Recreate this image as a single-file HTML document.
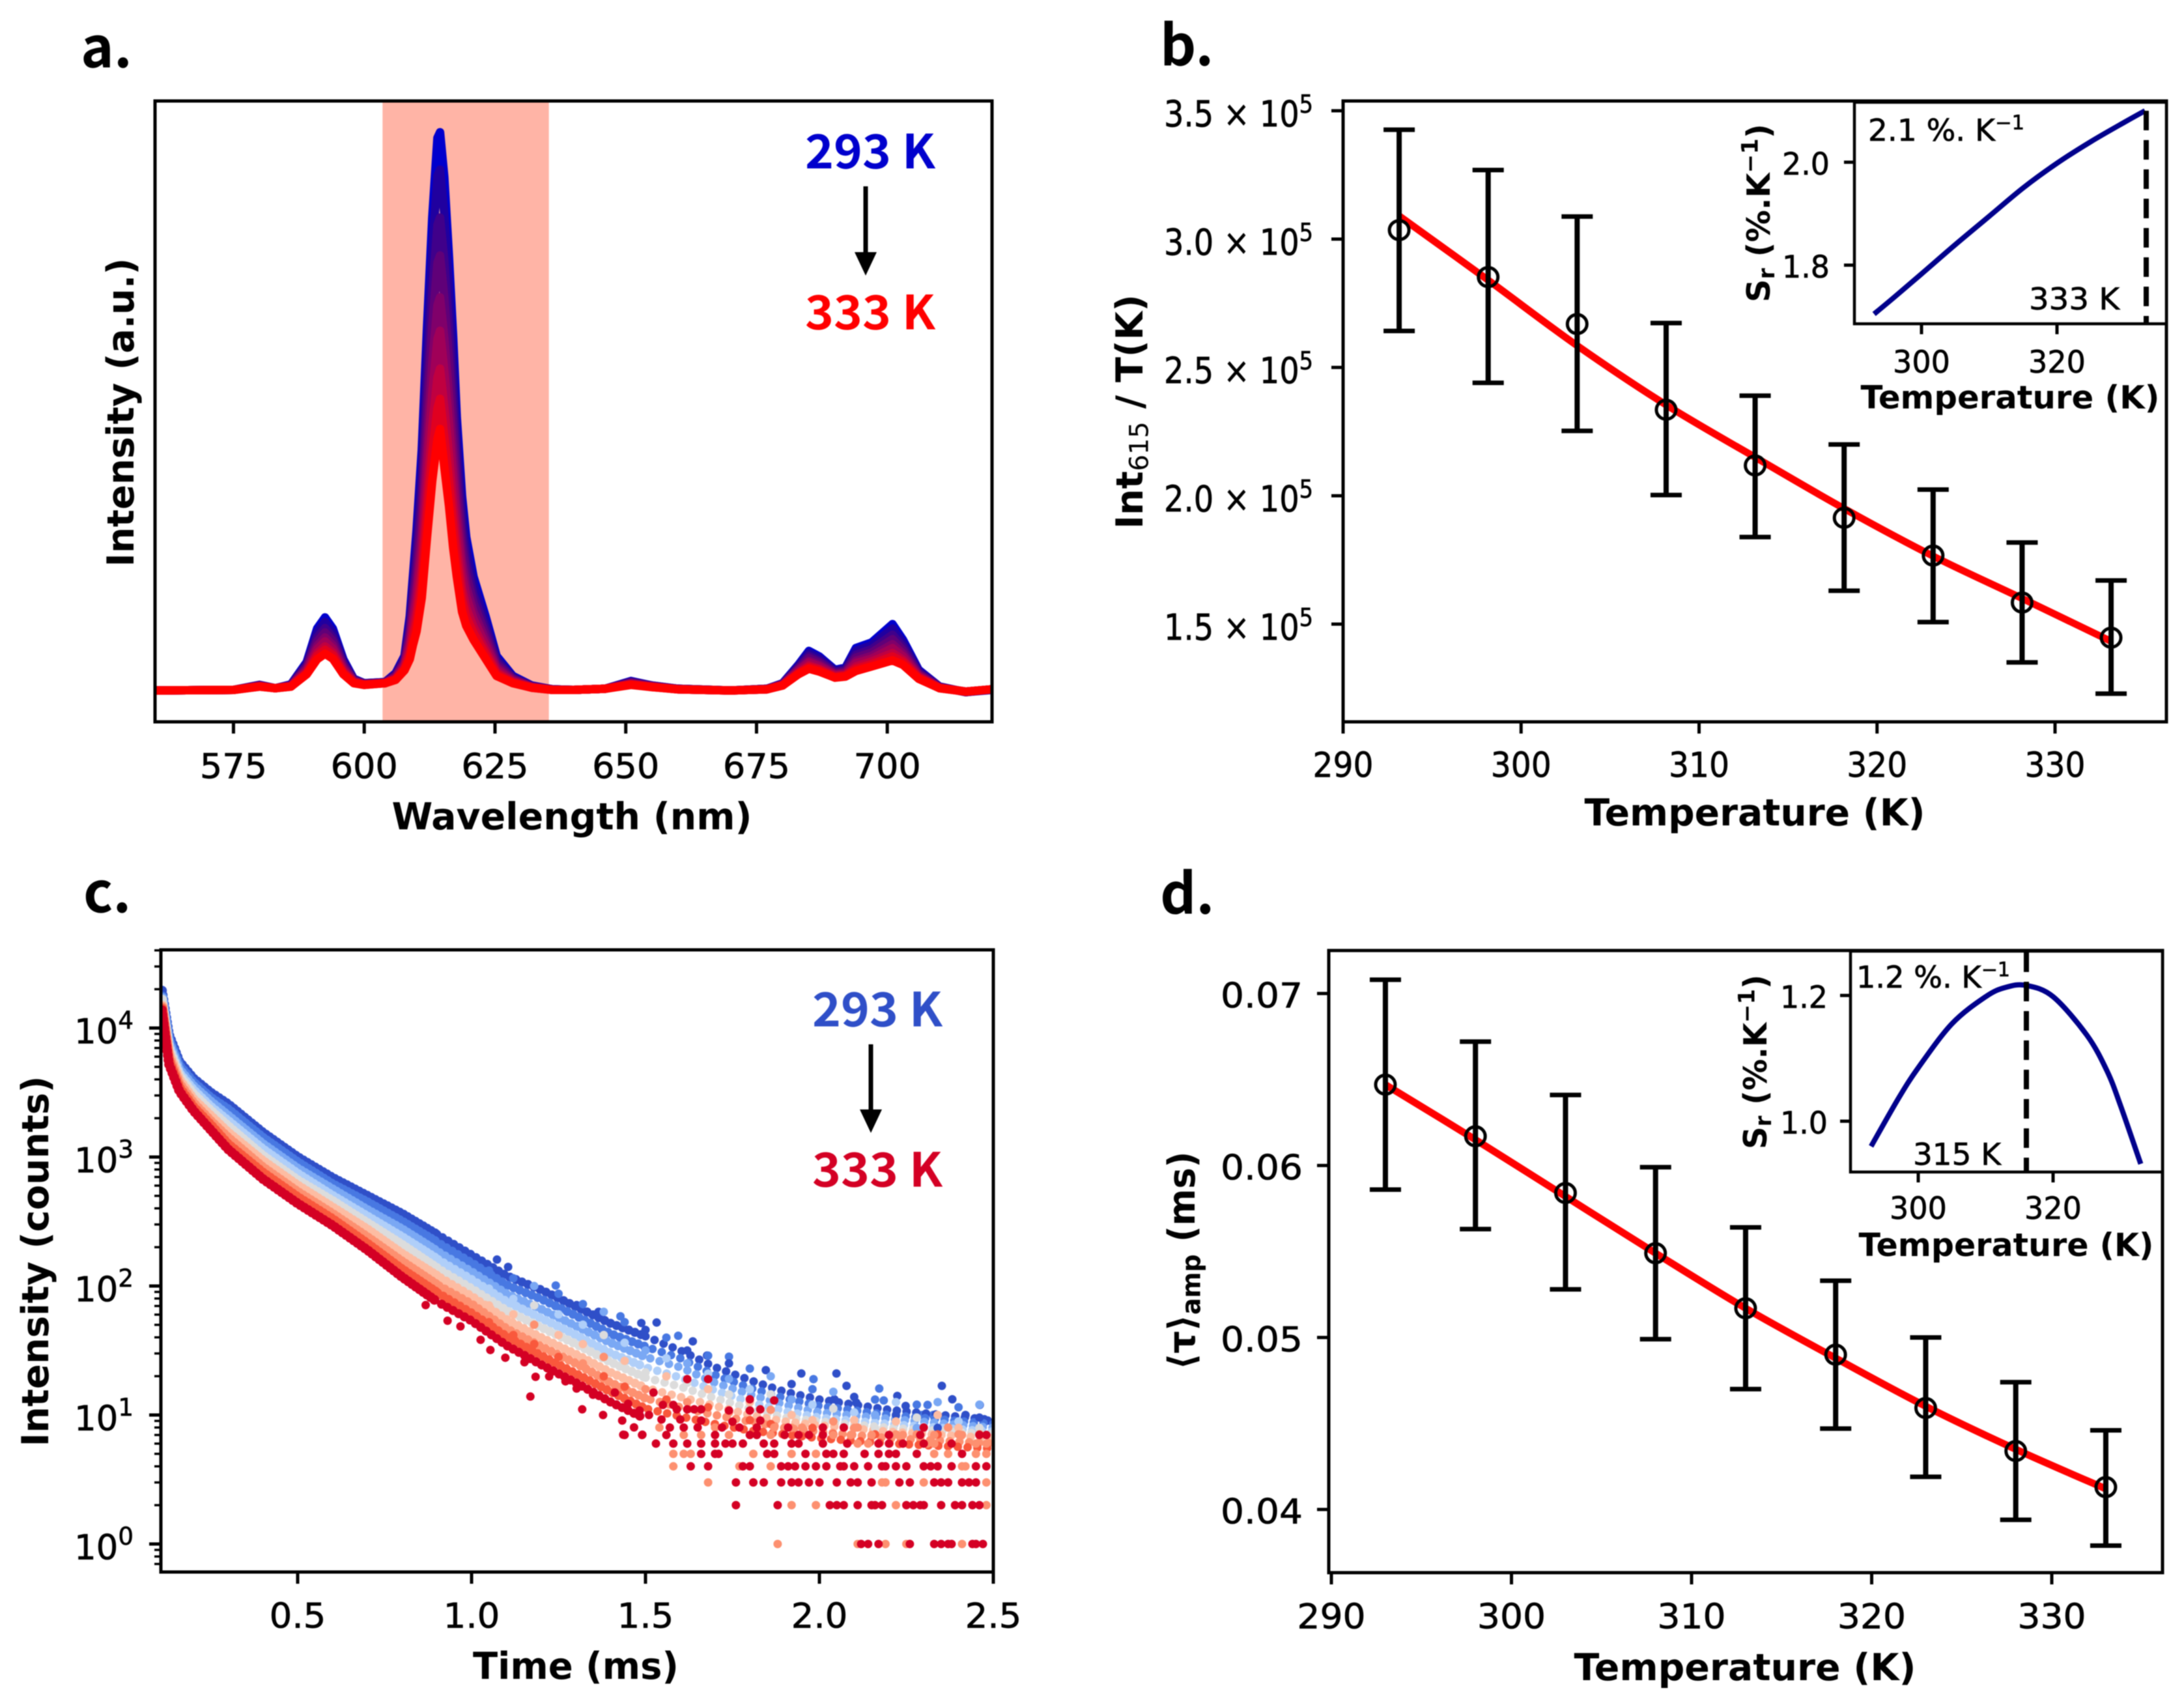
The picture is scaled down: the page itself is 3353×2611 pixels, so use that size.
<!DOCTYPE html>
<html lang="en">
<head>
<meta charset="utf-8">
<title>Luminescence thermometry figure</title>
<style>
html,body{margin:0;padding:0;background:#fff;width:3353px;height:2611px;overflow:hidden}
svg{display:block;filter:blur(0.8px)}
text{font-family:"DejaVu Sans","Liberation Sans",sans-serif;white-space:pre}
</style>
</head>
<body>
<svg id="fig" width="3353" height="2611" viewBox="0 0 3353 2611" xmlns="http://www.w3.org/2000/svg">
<defs>
<clipPath id="clip-a"><rect x="238" y="155" width="1285" height="953"/></clipPath>
<clipPath id="clip-c"><rect x="247" y="1458" width="1278" height="955"/></clipPath>
</defs>
<rect width="3353" height="2611" fill="#fff"/>
<g id="panel-a"></g>
<g id="panel-b"></g>
<g id="panel-c"></g>
<g id="panel-d"></g>
</svg>
<script>
/* ---------- Panel a data ---------- */
const wavelengths = [560,575,580,583,586,589,591,592.5,594,596,598,600,604,606,607.7,608.7,609.3,610,611,612,613,614,614.5,615.3,616.2,617,617.7,618.7,619.5,620.9,623.2,625.3,628.4,632,636,640,646,651,655,660,670,677,680,683,685,687,690,692,694,697,701,703,706,710,715,720];
const spectrum293 = [-.001,0,.009,.003,.010,.050,.110,.130,.110,.055,.020,.012,.014,.03,.061,.132,.203,.285,.43,.65,.847,.99,1,.92,.776,.633,.489,.347,.274,.203,.132,.061,.025,.008,.001,0,.002,.016,.008,.002,-.001,.002,.012,.045,.070,.060,.036,.040,.075,.085,.118,.090,.036,.006,-.004,0];
const spectrum298 = [-.001,0,.009,.003,.009,.047,.103,.122,.103,.052,.019,.012,.014,.028,.058,.122,.188,.262,.397,.603,.788,.922,.933,.854,.72,.585,.453,.321,.254,.189,.122,.056,.023,.007,.001,0,.002,.015,.008,.002,-.001,.002,.011,.043,.066,.057,.034,.038,.070,.080,.110,.084,.034,.006,-.004,.001];
const spectrum303 = [-.001,0,.008,.003,.009,.044,.094,.111,.094,.047,.018,.011,.013,.027,.054,.11,.168,.233,.354,.542,.711,.834,.847,.77,.648,.524,.407,.287,.228,.17,.110,.051,.021,.007,.001,0,.002,.014,.007,.002,-.001,.002,.011,.040,.061,.052,.032,.035,.063,.073,.099,.077,.031,.005,-.004,.001];
const spectrum308 = [-.001,0,.008,.003,.008,.041,.087,.103,.088,.044,.017,.011,.013,.025,.05,.1,.152,.21,.32,.494,.651,.766,.779,.704,.591,.476,.370,.261,.208,.156,.100,.046,.02,.006,.001,0,.002,.013,.007,.002,-.001,.002,.010,.038,.057,.049,.030,.033,.058,.067,.091,.071,.029,.005,-.004,.001];
const spectrum313 = [-.001,0,.007,.003,.008,.038,.079,.094,.080,.040,.016,.010,.013,.023,.047,.089,.135,.185,.283,.441,.585,.69,.704,.631,.528,.423,.330,.232,.186,.14,.090,.041,.018,.006,0,0,.002,.012,.007,.001,-.001,.001,.010,.036,.052,.045,.028,.031,.052,.061,.082,.065,.027,.004,-.003,.001];
const spectrum318 = [-.001,0,.007,.003,.007,.035,.073,.087,.074,.037,.015,.010,.013,.022,.044,.081,.121,.165,.253,.398,.531,.629,.644,.572,.478,.380,.298,.209,.168,.127,.081,.037,.016,.005,0,0,.002,.011,.006,.001,-.001,.001,.009,.034,.049,.042,.027,.029,.048,.056,.075,.060,.025,.004,-.003,.001];
const spectrum323 = [-.001,0,.007,.003,.007,.032,.066,.078,.067,.033,.014,.010,.012,.02,.04,.071,.105,.142,.219,.350,.471,.56,.576,.506,.421,.332,.261,.182,.147,.113,.071,.032,.015,.005,0,0,.002,.010,.006,.001,-.001,.001,.009,.031,.044,.038,.025,.027,.042,.051,.066,.054,.023,.004,-.003,.001];
const spectrum328 = [-.001,0,.006,.003,.006,.030,.061,.072,.062,.031,.013,.009,.012,.019,.038,.063,.093,.123,.192,.312,.423,.505,.522,.453,.375,.294,.232,.161,.131,.102,.064,.029,.013,.004,0,0,.002,.010,.005,.001,-.001,.001,.008,.030,.041,.036,.023,.026,.038,.046,.060,.050,.022,.003,-.003,.001];
const spectrum333 = [-.001,0,.006,.003,.006,.028,.055,.065,.056,.028,.012,.009,.012,.018,.035,.055,.08,.105,.165,.274,.375,.45,.468,.40,.33,.255,.203,.14,.115,.09,.056,.025,.012,.004,0,0,.002,.009,.005,.001,-.001,.001,.008,.028,.038,.033,.022,.024,.034,.042,.053,.045,.020,.003,-.003,.001];
const spectra = [spectrum293,spectrum298,spectrum303,spectrum308,spectrum313,spectrum318,spectrum323,spectrum328,spectrum333];
const spectrumColors = ['#0000cd','#20009f','#40008a','#600078','#80006a','#a00058','#c00040','#e00020','#ff0000'];
const wavelengthTicks = [575,600,625,650,675,700];
const bandRange = [603.5,635.3];

/* ---------- Panel b data ---------- */
const temperatures = [293.15,298.15,303.15,308.15,313.15,318.15,323.15,328.15,333.15];
const intMeans = [3.035,2.852,2.669,2.335,2.118,1.914,1.767,1.584,1.447];
const intHigh = [3.426,3.269,3.088,2.673,2.39,2.2,2.024,1.818,1.67];
const intLow = [2.642,2.44,2.253,2.003,1.839,1.63,1.508,1.351,1.229];
const intFit = [3.09,2.84,2.585,2.354,2.15,1.95,1.765,1.6,1.433];
const intXTicks = [290,300,310,320,330];
const intYTicks = [1.5,2.0,2.5,3.0,3.5];
const srbTemps = [293,296,300,305,310,315,320,325,330,333];
const srbValues = [1.705,1.738,1.783,1.84,1.895,1.95,1.998,2.04,2.078,2.1];
const srbXTicks = [300,320];
const srbYTicks = [1.8,2.0];

/* ---------- Panel c data ---------- */
const decayTimes = [0.11,0.13,0.16,0.2,0.25,0.3,0.4,0.5,0.6,0.7,0.8,0.9,1.0,1.1,1.2,1.3,1.4,1.5,1.6,1.7,1.8,1.9,2.0,2.2,2.5];
const decayLog293 = [4.29,3.95,3.74,3.61,3.50,3.41,3.19,3.00,2.84,2.70,2.56,2.40,2.24,2.08,1.97,1.84,1.71,1.61,1.50,1.37,1.27,1.18,1.12,1.04,.96];
const decayLog298 = [4.27,3.92,3.71,3.58,3.46,3.37,3.15,2.96,2.79,2.65,2.50,2.34,2.18,2.01,1.90,1.77,1.63,1.53,1.44,1.31,1.21,1.13,1.07,1.0,.93];
const decayLog303 = [4.25,3.89,3.68,3.55,3.43,3.32,3.10,2.91,2.75,2.59,2.44,2.27,2.11,1.94,1.82,1.69,1.56,1.45,1.37,1.25,1.16,1.08,1.02,.97,.90];
const decayLog308 = [4.23,3.86,3.65,3.52,3.39,3.28,3.06,2.87,2.70,2.54,2.38,2.21,2.05,1.88,1.75,1.62,1.48,1.37,1.29,1.19,1.10,1.03,.98,.93,.87];
const decayLog313 = [4.22,3.84,3.63,3.49,3.36,3.24,3.01,2.82,2.66,2.49,2.32,2.14,1.98,1.81,1.68,1.55,1.41,1.29,1.22,1.13,1.05,.98,.95,.90,.85];
const decayLog318 = [4.20,3.81,3.60,3.45,3.32,3.19,2.97,2.78,2.61,2.44,2.25,2.08,1.92,1.74,1.60,1.47,1.33,1.21,1.14,1.07,1.0,.95,.92,.87,.82];
const decayLog323 = [4.18,3.78,3.57,3.42,3.28,3.15,2.92,2.73,2.56,2.38,2.19,2.01,1.86,1.67,1.53,1.40,1.25,1.13,1.06,1.0,.95,.90,.87,.82,.78];
const decayLog328 = [4.16,3.75,3.54,3.39,3.25,3.10,2.88,2.69,2.52,2.33,2.13,1.95,1.79,1.61,1.46,1.32,1.18,1.05,.99,.93,.88,.85,.82,.78,.74];
const decayLog333 = [4.14,3.72,3.51,3.36,3.21,3.06,2.83,2.64,2.47,2.28,2.07,1.88,1.73,1.54,1.39,1.25,1.10,.97];
const decaySeries = [decayLog293,decayLog298,decayLog303,decayLog308,decayLog313,decayLog318,decayLog323,decayLog328,decayLog333];
const decayColors = ['#2f4fc8','#4878e2','#7aa8f4','#b0cff9','#dcdcdc','#fdbca2','#fd9070','#f9583c','#d40024'];
const blueEdgeTimes = [1.073,1.105,1.242,1.302,1.365,1.428,1.488,1.532,1.594,1.636,1.677,1.740,1.846,1.948,1.983,2.049,2.078,2.172,2.352,2.224,2.311,2.382,2.461,2.295,2.42,2.484,2.327,2.043,2.106,2.185,2.248];
const blueEdgeLog = [2.205,2.148,2.004,1.852,1.80,1.765,1.713,1.717,1.614,1.571,1.461,1.452,1.348,1.322,1.278,1.322,1.226,1.205,1.226,1.148,1.078,1.122,1.078,1.0,1.0,.957,1.0,1.122,1.096,1.113,1.07];
const redEdgeTimes = [.868,.931,.968,1.026,1.054,1.097,1.152,1.184,1.223,1.169,1.318,1.378,1.433,1.436,1.491,1.467,1.270,1.302,1.349,1.412,1.523,1.483,1.546,1.59,1.62,1.64,1.66,1.74,1.80,1.83,1.48,1.51,1.60,1.66,1.75,1.83,1.62,1.68,1.80,1.87,1.45,1.55,1.58];
const redEdgeLog = [1.852,1.731,1.687,1.583,1.504,1.444,1.409,1.296,1.299,1.143,1.044,1.0,.957,.847,.847,.904,1.261,1.205,1.157,1.174,1.174,1.035,.965,1.044,1.044,1.044,1.044,1.035,1.035,1.044,1.0,1.0,.965,.957,.948,.957,1.278,1.278,1.122,1.113,1.087,1.078,1.078];
const fuzzTimes = [1.05,1.05,1.05,1.05,1.12,1.12,1.12,1.12,1.18,1.18,1.18,1.18,1.25,1.25,1.25,1.25,1.32,1.32,1.32,1.32,1.38,1.38,1.38,1.38,1.44,1.44,1.44,1.44,1.5,1.5,1.5,1.5,1.56,1.56,1.56,1.56,1.62,1.62,1.62,1.62,1.68,1.68,1.68,1.68,1.74,1.74,1.74,1.74,1.8,1.8,1.8,1.8,1.86,1.86,1.86,1.86,1.92,1.92,1.92,1.92,1.98,1.98,1.98,1.98,2.04,2.04,2.04,2.04,2.1,2.1,2.1,2.1,2.16,2.16,2.16,2.16,2.22,2.22,2.22,2.22,2.28,2.28,2.28,2.28,2.34,2.34,2.34,2.34,2.4,2.4,2.4,2.4,2.46,2.46,2.46,2.46];
const fuzzLog = [2.12,1.98,1.85,1.72,2.06,1.9,1.78,1.62,2.0,1.85,1.7,1.55,1.94,1.78,1.62,1.45,1.86,1.7,1.55,1.4,1.8,1.62,1.45,1.3,1.72,1.56,1.42,1.22,1.66,1.5,1.33,1.2,1.6,1.44,1.3,1.12,1.5,1.4,1.25,1.1,1.46,1.32,1.2,1.06,1.4,1.28,1.16,1.02,1.36,1.2,1.1,.96,1.3,1.16,1.04,.93,1.24,1.12,1.0,.9,1.2,1.08,.96,.9,1.18,1.05,.95,.85,1.14,1.02,.96,.9,1.12,1.0,.9,.85,1.1,1.0,.95,.85,1.08,.98,.9,.85,1.1,1.0,.9,.85,1.06,.95,.9,.85,1.08,.98,.9,.85];
const fuzzSeries = [1,3,5,7,1,3,5,7,2,4,6,7,1,3,5,7,1,3,5,6,2,4,6,7,1,3,5,7,0,2,4,6,1,3,5,7,0,2,4,6,1,3,5,7,0,2,4,6,1,3,5,7,2,4,6,7,0,2,5,6,1,3,5,7,2,4,6,7,0,3,5,6,1,2,4,7,3,0,5,6,1,4,2,6,2,5,0,7,1,3,5,6,2,0,4,7];
const tailCounts = [1,2,3,4,5,6,7,8];
const tailTimesSalmon = [
 [1.88,2.11,2.19,2.25,2.41],
 [1.99,1.92,2.22,2.48],
 [1.68,1.81,2.19,2.48,2.18,2.30],
 [1.58,1.77,1.86,2.41,2.42],
 [1.58,1.61,1.63,1.81,1.92,1.99,2.33,2.37,2.45,2.48],
 [2.11,2.14,2.31,2.33,2.45,2.48],
 [1.61,1.66,1.74,1.86,2.04,2.09,2.15,2.24,2.33,2.41],
 [1.54,1.70,1.87,1.95,2.11,2.37]
];
const tailTimesRed = [
 [2.12,2.14,2.17,2.26,2.33,2.35,2.37,2.38,2.44,2.45,2.47],
 [1.76,1.88,2.03,2.05,2.07,2.11,2.15,2.16,2.18,2.25,2.27,2.29,2.30,2.35,2.39,2.41,2.44,2.46],
 [1.76,1.81,1.84,1.89,1.92,1.94,1.97,2.0,2.05,2.09,2.11,2.15,2.23,2.26,2.33,2.35,2.37,2.41,2.43,2.45],
 [1.63,1.68,1.78,1.80,1.89,1.91,1.93,1.96,1.99,2.02,2.06,2.07,2.10,2.14,2.18,2.19,2.22,2.25,2.30,2.32,2.34,2.38,2.45,2.48],
 [1.66,1.70,1.71,1.85,1.87,1.96,2.02,2.04,2.07,2.13,2.17,2.20,2.22,2.28,2.41],
 [1.53,1.58,1.62,1.66,1.70,1.73,1.75,1.78,1.84,1.87,1.92,1.94,2.01,2.08,2.17,2.20,2.24,2.30,2.38],
 [1.44,1.49,1.56,1.70,1.80,1.82,1.90,1.94,1.97,2.01,2.20,2.29,2.46,2.48],
 [1.57,1.61,1.65,1.72,1.77,1.82,1.91,2.01,2.07,2.30]
];
const timeTicks = [0.5,1.0,1.5,2.0,2.5];
const decadeTicks = [0,1,2,3,4];
const minorDecades = [-1,0,1,2,3,4];
const minorMultipliers = [2,3,4,5,6,7,8,9];

/* ---------- Panel d data ---------- */
const tauTemps = [293,298,303,308,313,318,323,328,333];
const tauMeans = [.0647,.0617,.0584,.0549,.0517,.0490,.0459,.0434,.0413];
const tauHigh = [.0708,.0672,.0641,.0599,.0564,.0533,.0500,.0474,.0446];
const tauLow = [.0586,.0563,.0528,.0499,.0470,.0447,.0419,.0394,.0379];
const tauFit = [.0647,.0615,.0582,.0549,.0517,.0488,.0460,.0435,.0412];
const tauXTicks = [290,300,310,320,330];
const tauYTicks = [.04,.05,.06,.07];
const srdTemps = [293,297,300,305,310,313,316,320,325,328,330,333];
const srdValues = [.96,1.035,1.085,1.155,1.198,1.213,1.216,1.198,1.137,1.08,1.025,.932];
const srdXTicks = [300,320];
const srdYTicks = [1.0,1.2];

/* ---------- axis functions ---------- */
const axA = {x:v=>238+(v-560)*8.03, y:v=>1059-v*856};
const axB = {x:v=>2062+(v-290)*27.325, y:v=>958-(v-1.5)*394};
const axBi = {x:v=>2950+(v-300)*10.4, y:v=>249+(2.0-v)*790};
const axC = {x:v=>457+(v-0.5)*534, y:v=>2370-v*198};
const axD = {x:v=>2044+(v-290)*27.65, y:v=>2317-(v-.04)*26400};
const axDi = {x:v=>2945+(v-300)*10.35, y:v=>1721-(v-1.0)*965};

/* ---------- drawing helpers ---------- */
const SVGNS = 'http://www.w3.org/2000/svg';
function mk(tag, attrs, parent){
  const e = document.createElementNS(SVGNS, tag);
  for(const k in attrs){ e.setAttribute(k, attrs[k]); }
  parent.appendChild(e);
  return e;
}
function txt(parent, content, x, yc, size, o){
  o = o || {};
  const base = yc + size*0.365;
  const a = {x:x, y:base, 'font-size':size, 'text-anchor':o.anchor||'middle', 'font-weight':o.weight||'normal', fill:o.fill||'#000'};
  if(!o.weight){ a.stroke = '#000'; a['stroke-width'] = 0.7; }
  if(o.family){ a.style = 'font-family:'+o.family; }
  if(o.rotate){ a.transform = 'rotate(-90 '+x+' '+yc+')'; }
  const t = mk('text', a, parent);
  if(typeof content === 'string'){
    t.textContent = content;
  } else {
    let cur = 0;
    content.forEach(function(s){
      const ts = mk('tspan', {}, t);
      const shift = (s.shift||0)*size;
      if(shift !== cur){ ts.setAttribute('dy', shift-cur); cur = shift; }
      if(s.size){ ts.setAttribute('font-size', s.size*size); }
      if(s.weight){ ts.setAttribute('font-weight', s.weight); }
      ts.textContent = s.t;
    });
  }
  if(o.width){
    t.setAttribute('textLength', o.width);
    t.setAttribute('lengthAdjust', 'spacingAndGlyphs');
  }
  return t;
}
function frame(parent, x0, y0, x1, y1, w){
  const r = mk('rect', {x:x0, y:y0, width:x1-x0, height:y1-y0, fill:'none', stroke:'#000', 'stroke-width':w}, parent);
  
  
}
function xTicks(parent, ticks, ax, yAxis, labelY, size, w, fmt, len){
  ticks.forEach(function(v){
    const l = mk('line', {x1:ax.x(v), x2:ax.x(v), y1:yAxis, y2:yAxis+len, stroke:'#000', 'stroke-width':5}, parent);
    
    
    const s = fmt(v);
    const em = s.indexOf('.')>=0 ? (s.length-1)*0.636+0.318 : s.length*0.636;
    const t = txt(parent, s, ax.x(v), labelY, size, {width:em*size*(w/5)});
    
    
  });
}
function yTicks(parent, ticks, ax, xAxis, labelX, size, content, len, width){
  ticks.forEach(function(v){
    const l = mk('line', {x1:xAxis-len, x2:xAxis, y1:ax.y(v), y2:ax.y(v), stroke:'#000', 'stroke-width':5}, parent);
    
    
    const t = txt(parent, content(v), labelX, ax.y(v)+ (typeof content(v)==='string'?2:4), size, {anchor:'end', width:width});
    
    
  });
}
function pts(xs, ys, ax){
  return xs.map(function(v,i){ return ax.x(v).toFixed(1)+','+ax.y(ys[i]).toFixed(1); }).join(' ');
}
function smooth(xs, ys, ax){
  const P = xs.map(function(v,i){ return [ax.x(v), ax.y(ys[i])]; });
  let d = 'M'+P[0][0].toFixed(1)+' '+P[0][1].toFixed(1);
  for(let i=0;i<P.length-1;i++){
    const p0 = P[Math.max(i-1,0)], p1 = P[i], p2 = P[i+1], p3 = P[Math.min(i+2,P.length-1)];
    const c1x = p1[0]+(p2[0]-p0[0])/6, c1y = p1[1]+(p2[1]-p0[1])/6;
    const c2x = p2[0]-(p3[0]-p1[0])/6, c2y = p2[1]-(p3[1]-p1[1])/6;
    d += ' C'+c1x.toFixed(1)+' '+c1y.toFixed(1)+' '+c2x.toFixed(1)+' '+c2y.toFixed(1)+' '+p2[0].toFixed(1)+' '+p2[1].toFixed(1);
  }
  return d;
}
function arrow(parent, x, y0, y1, color){
  const l = mk('line', {x1:x, x2:x, y1:y0, y2:y1-28, stroke:color, 'stroke-width':7}, parent);
  
  
  const h = mk('polygon', {points:(x-17)+','+(y1-36)+' '+(x+17)+','+(y1-36)+' '+x+','+y1, fill:color}, parent);
  
  
}
const HEAD = '"Noto Sans CJK JP","Liberation Sans",sans-serif';

/* ---------- panel a ---------- */
(function(){
  const g = document.getElementById('panel-a');
  const lbl = txt(g, 'a.', 124, 72, 86, {anchor:'start', weight:'bold', family:HEAD});
  
  
  const band = mk('rect', {x:axA.x(bandRange[0]), y:155, width:axA.x(bandRange[1])-axA.x(bandRange[0]), height:953, fill:'#ffb4a6'}, g);
  
  
  const plot = mk('g', {'clip-path':'url(#clip-a)'}, g);
  
  
  spectra.forEach(function(s,i){
    const p = mk('polyline', {points:pts(wavelengths, s, axA), fill:'none', stroke:spectrumColors[i], 'stroke-width':13, 'stroke-linejoin':'round', 'stroke-linecap':'round'}, plot);
    
    
  });
  frame(g, 238, 155, 1523, 1108, 5);
  xTicks(g, wavelengthTicks, axA, 1108, 1175, 53, 5.1, function(v){return String(v);}, 18);
  const xt = txt(g, 'Wavelength (nm)', 878, 1252, 57, {weight:'bold', width:553});
  
  
  const yt = txt(g, 'Intensity (a.u.)', 184, 633, 57, {weight:'bold', rotate:true, width:474});
  
  
  const t1 = txt(g, '293 K', 1336, 232, 72, {weight:'bold', fill:'#0000cd', family:HEAD, width:200});
  
  
  const t2 = txt(g, '333 K', 1336, 479, 72, {weight:'bold', fill:'#ff0000', family:HEAD, width:200});
  
  
  arrow(g, 1329, 286, 423, '#000');
})();

/* ---------- panel b ---------- */
function errorPlot(g, xs, means, hi, lo, fit, ax, capHalf){
  const line = mk('path', {d:smooth(xs, fit, ax), fill:'none', stroke:'#ff0000', 'stroke-width':11, 'stroke-linejoin':'round'}, g);
  
  
  xs.forEach(function(v,i){
    const x = ax.x(v);
    const b = mk('line', {x1:x, x2:x, y1:ax.y(hi[i]), y2:ax.y(lo[i]), stroke:'#000', 'stroke-width':8}, g);
    
    
    const c1 = mk('line', {x1:x-capHalf, x2:x+capHalf, y1:ax.y(hi[i]), y2:ax.y(hi[i]), stroke:'#000', 'stroke-width':7}, g);
    
    
    const c2 = mk('line', {x1:x-capHalf, x2:x+capHalf, y1:ax.y(lo[i]), y2:ax.y(lo[i]), stroke:'#000', 'stroke-width':7}, g);
    
    
    const m = mk('ellipse', {cx:x, cy:ax.y(means[i]), rx:15, ry:14.5, fill:'none', stroke:'#000', 'stroke-width':5}, g);
    
    
  });
}
(function(){
  const g = document.getElementById('panel-b');
  const lbl = txt(g, 'b.', 1781, 69, 86, {anchor:'start', weight:'bold', family:HEAD});
  
  
  frame(g, 2062, 155, 3326, 1108, 5);
  errorPlot(g, temperatures, intMeans, intHigh, intLow, intFit, axB, 24);
  xTicks(g, intXTicks, axB, 1108, 1173, 53, 4.6, function(v){return String(v);}, 18);
  yTicks(g, intYTicks, axB, 2062, 2016, 55, function(v){return [{t:v.toFixed(1)+' × 10'},{t:'5',size:.7,shift:-.38}];}, 18, 229);
  const xt = txt(g, 'Temperature (K)', 2694, 1246, 57, {weight:'bold', width:523});
  
  
  const yt = txt(g, [{t:'Int'},{t:'615',size:.7,shift:.15,weight:'normal'},{t:' / T(K)'}], 1733, 632, 57, {weight:'bold', rotate:true, width:360});
  
  
  /* inset */
  const ins = mk('g', {}, g);
  
  
  const bg = mk('rect', {x:2847, y:157, width:479, height:340, fill:'#fff', stroke:'#000', 'stroke-width':4.5}, ins);
  
  
  const c = mk('path', {d:smooth(srbTemps, srbValues, axBi), fill:'none', stroke:'#00008b', 'stroke-width':8}, ins);
  
  
  const dash = mk('line', {x1:3295, x2:3295, y1:170, y2:497, stroke:'#000', 'stroke-width':8, 'stroke-dasharray':'30 15'}, ins);
  
  
  xTicks(ins, srbXTicks, axBi, 497, 555, 47, 4.9, function(v){return String(v);}, 16);
  yTicks(ins, srbYTicks, axBi, 2847, 2809, 47, function(v){return v.toFixed(1);}, 16, 73);
  const a1 = txt(ins, [{t:'2.1 %. K'},{t:'−1',size:.65,shift:-.38}], 2868, 199, 46, {anchor:'start', width:240});
  
  
  const a2 = txt(ins, '333 K', 3115, 458, 46, {anchor:'start', width:139});
  
  
  const ix = txt(ins, 'Temperature (K)', 3086, 609, 49, {weight:'bold', width:459});
  
  
  const iy = txt(ins, [{t:'S'},{t:'r',size:.7,shift:.15},{t:' (%.K'},{t:'−1',size:.7,shift:-.38},{t:')'}], 2699, 327, 49, {weight:'bold', rotate:true, width:274});
  
  
})();

/* ---------- panel c ---------- */
(function(){
  const g = document.getElementById('panel-c');
  const lbl = txt(g, 'c.', 128, 1369, 86, {anchor:'start', weight:'bold', family:HEAD});
  
  
  const plot = mk('g', {'clip-path':'url(#clip-c)'}, g);
  
  
  blueEdgeTimes.forEach(function(t,i){
    const d = mk('circle', {cx:axC.x(t), cy:axC.y(blueEdgeLog[i]), r:6.5, fill:i%3===2?decayColors[1]:decayColors[0]}, plot);
    
    
  });
  /* node-index ranges of the dense, medium and sparse parts of each decay */
  const segStart = [0,11,17];
  const segEnd = [11,17,24];
  const segGap = [7,10,15];
  const segWidth = [15,14,13];
  decaySeries.forEach(function(s,i){
    segStart.forEach(function(a,j){
      const b = Math.min(segEnd[j], s.length-1);
      if(b > a){
        const p = mk('polyline', {points:pts(decayTimes.slice(a,b+1), s.slice(a,b+1), axC), fill:'none', stroke:decayColors[i], 'stroke-width':segWidth[j], 'stroke-linecap':'round', 'stroke-linejoin':'round', 'stroke-dasharray':'0 '+segGap[j], 'stroke-dashoffset':i*(1.7+j)}, plot);
        
        
      }
    });
  });
  decayColors.forEach(function(col,k){
    fuzzTimes.forEach(function(t,i){
      if(fuzzSeries[i]===k){
        const d = mk('circle', {cx:axC.x(t), cy:axC.y(fuzzLog[i]), r:6.5, fill:col}, plot);
        
        
      }
    });
  });
  tailCounts.forEach(function(cnt,r){
    tailTimesSalmon[r].forEach(function(t){
      const d = mk('circle', {cx:axC.x(t), cy:axC.y(Math.log10(cnt)), r:6.5, fill:decayColors[6]}, plot);
      
      
    });
  });
  tailCounts.forEach(function(cnt,r){
    tailTimesRed[r].forEach(function(t){
      const d = mk('circle', {cx:axC.x(t), cy:axC.y(Math.log10(cnt)), r:6.5, fill:decayColors[8]}, plot);
      
      
    });
  });
  redEdgeTimes.forEach(function(t,i){
    const d = mk('circle', {cx:axC.x(t), cy:axC.y(redEdgeLog[i]), r:6.5, fill:decayColors[8]}, plot);
    
    
  });
  frame(g, 247, 1458, 1525, 2413, 5);
  xTicks(g, timeTicks, axC, 2413, 2479, 53, 5.15, function(v){return v.toFixed(1);}, 18);
  minorDecades.forEach(function(dec){
    minorMultipliers.forEach(function(m){
      const y = axC.y(dec+Math.log10(m));
      if(y>1458 && y<2413){
        const l = mk('line', {x1:237, x2:247, y1:y, y2:y, stroke:'#000', 'stroke-width':3.5}, g);
        
        
      }
    });
  });
  yTicks(g, decadeTicks, axC, 247, 205, 53, function(v){return [{t:'10'},{t:String(v),size:.7,shift:-.42}];}, 18);
  const xt = txt(g, 'Time (ms)', 884, 2556, 57, {weight:'bold', width:316});
  
  
  const yt = txt(g, 'Intensity (counts)', 53, 1936, 57, {weight:'bold', rotate:true, width:569});
  
  
  const t1 = txt(g, '293 K', 1347, 1549, 72, {weight:'bold', fill:'#2f4fc8', family:HEAD, width:200});
  
  
  const t2 = txt(g, '333 K', 1347, 1795, 72, {weight:'bold', fill:'#d40024', family:HEAD, width:200});
  
  
  arrow(g, 1337, 1603, 1739, '#000');
})();

/* ---------- panel d ---------- */
(function(){
  const g = document.getElementById('panel-d');
  const lbl = txt(g, 'd.', 1781, 1371, 86, {anchor:'start', weight:'bold', family:HEAD});
  
  
  frame(g, 2040, 1459, 3320, 2414, 5);
  errorPlot(g, tauTemps, tauMeans, tauHigh, tauLow, tauFit, axD, 24);
  xTicks(g, tauXTicks, axD, 2414, 2480, 53, 5.2, function(v){return String(v);}, 18);
  yTicks(g, tauYTicks, axD, 2040, 2000, 53, function(v){return v.toFixed(2);}, 18, 126);
  const xt = txt(g, 'Temperature (K)', 2679, 2558, 57, {weight:'bold', width:525});
  
  
  const yt = txt(g, [{t:'⟨τ⟩'},{t:'amp',size:.7,shift:.15},{t:' (ms)'}], 1813, 1935, 57, {weight:'bold', rotate:true, width:335});
  
  
  /* inset */
  const ins = mk('g', {}, g);
  
  
  const bg = mk('rect', {x:2841, y:1460, width:479, height:339, fill:'#fff', stroke:'#000', 'stroke-width':4.5}, ins);
  
  
  const c = mk('path', {d:smooth(srdTemps, srdValues, axDi), fill:'none', stroke:'#00008b', 'stroke-width':8}, ins);
  
  
  const dash = mk('line', {x1:3111, x2:3111, y1:1462, y2:1799, stroke:'#000', 'stroke-width':8, 'stroke-dasharray':'30 15'}, ins);
  
  
  xTicks(ins, srdXTicks, axDi, 1799, 1854, 47, 4.9, function(v){return String(v);}, 16);
  yTicks(ins, srdYTicks, axDi, 2841, 2806, 47, function(v){return v.toFixed(1);}, 16, 73);
  const a1 = txt(ins, [{t:'1.2 %. K'},{t:'−1',size:.65,shift:-.38}], 2850, 1499, 46, {anchor:'start', width:236});
  
  
  const a2 = txt(ins, '315 K', 2937, 1771, 46, {anchor:'start', width:135});
  
  
  const ix = txt(ins, 'Temperature (K)', 3080, 1910, 49, {weight:'bold', width:453});
  
  
  const iy = txt(ins, [{t:'S'},{t:'r',size:.7,shift:.15},{t:' (%.K'},{t:'−1',size:.7,shift:-.38},{t:')'}], 2694, 1630, 49, {weight:'bold', rotate:true, width:268});
  
  
})();
</script>
</body>
</html>
